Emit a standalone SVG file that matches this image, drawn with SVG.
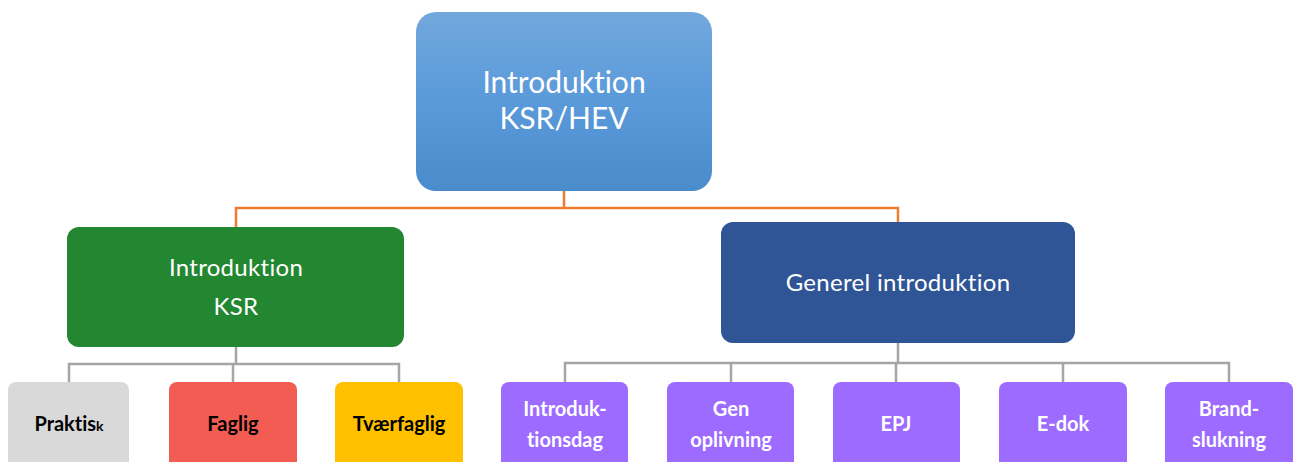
<svg xmlns="http://www.w3.org/2000/svg" width="1293" height="462" viewBox="0 0 1293 462">
<defs>
<linearGradient id="gTop" x1="0" y1="0" x2="0" y2="1">
<stop offset="0" stop-color="#71A7DC"/>
<stop offset="0.5" stop-color="#5A9ADA"/>
<stop offset="1" stop-color="#4A8BCB"/>
</linearGradient>
<style>
.t{font-family:Lato,"Open Sans",sans-serif;text-anchor:middle;font-variant-ligatures:none;font-feature-settings:"liga" 0;}
.w{fill:#FFFFFF;}
.b{font-weight:bold;font-size:20px;}
.m{font-size:24px;letter-spacing:0.3px;}
.k{fill:#000000;}
.lo{fill:none;stroke:#ED7D31;stroke-width:2.5;}
.lg{fill:none;stroke:#A5A5A5;stroke-width:2.5;}
.p{fill:#9D6BFF;}
</style>
</defs>
<rect width="1293" height="462" fill="#FFFFFF"/>
<g id="connectors">
<path class="lo" d="M564 191 V208 M236 228 V208 H898 V222"/>
<path class="lg" d="M236 347 V364 M69 382 V364 H399 V382 M233 364 V382"/>
<path class="lg" d="M898 343 V363 M565 382 V363 H1229 V382 M731 363 V382 M896 363 V382 M1063 363 V382"/>
</g>
<g id="root">
<rect x="416" y="12" width="296" height="179" rx="20" fill="url(#gTop)"/>
<text class="t w" x="564" y="93" font-size="30">Introduktion</text>
<text class="t w" x="564" y="129" font-size="30">KSR/HEV</text>
</g>
<g id="ksr">
<rect x="67" y="227" width="337" height="120" rx="12" fill="#238630"/>
<text class="t w m" x="236" y="276">Introduktion</text>
<text class="t w m" x="236" y="315">KSR</text>
</g>
<g id="generel">
<rect x="721" y="222" width="354" height="121" rx="12" fill="#2F5597"/>
<text class="t w m" x="898" y="291">Generel introduktion</text>
</g>
<g id="praktisk">
<rect x="8" y="382" width="121" height="95" rx="8" fill="#D9D9D9"/>
<text class="t b k" x="69" y="431">Praktis<tspan font-size="14">k</tspan></text>
</g>
<g id="faglig">
<rect x="169" y="382" width="128" height="95" rx="8" fill="#F25C53"/>
<text class="t b k" x="233" y="431">Faglig</text>
</g>
<g id="tvaerfaglig">
<rect x="335" y="382" width="128" height="95" rx="8" fill="#FFC000"/>
<text class="t b k" x="399" y="431">Tværfaglig</text>
</g>
<g id="introduktionsdag">
<rect class="p" x="501" y="382" width="127" height="95" rx="8"/>
<text class="t b w" x="565" y="416">Introduk-</text>
<text class="t b w" x="565" y="447">tionsdag</text>
</g>
<g id="genoplivning">
<rect class="p" x="667" y="382" width="127" height="95" rx="8"/>
<text class="t b w" x="731" y="416">Gen</text>
<text class="t b w" x="731" y="447">oplivning</text>
</g>
<g id="epj">
<rect class="p" x="833" y="382" width="127" height="95" rx="8"/>
<text class="t b w" x="896" y="431">EPJ</text>
</g>
<g id="edok">
<rect class="p" x="999" y="382" width="128" height="95" rx="8"/>
<text class="t b w" x="1063" y="431">E-dok</text>
</g>
<g id="brandslukning">
<rect class="p" x="1165" y="382" width="128" height="95" rx="8"/>
<text class="t b w" x="1229" y="416">Brand-</text>
<text class="t b w" x="1229" y="447">slukning</text>
</g>
</svg>
